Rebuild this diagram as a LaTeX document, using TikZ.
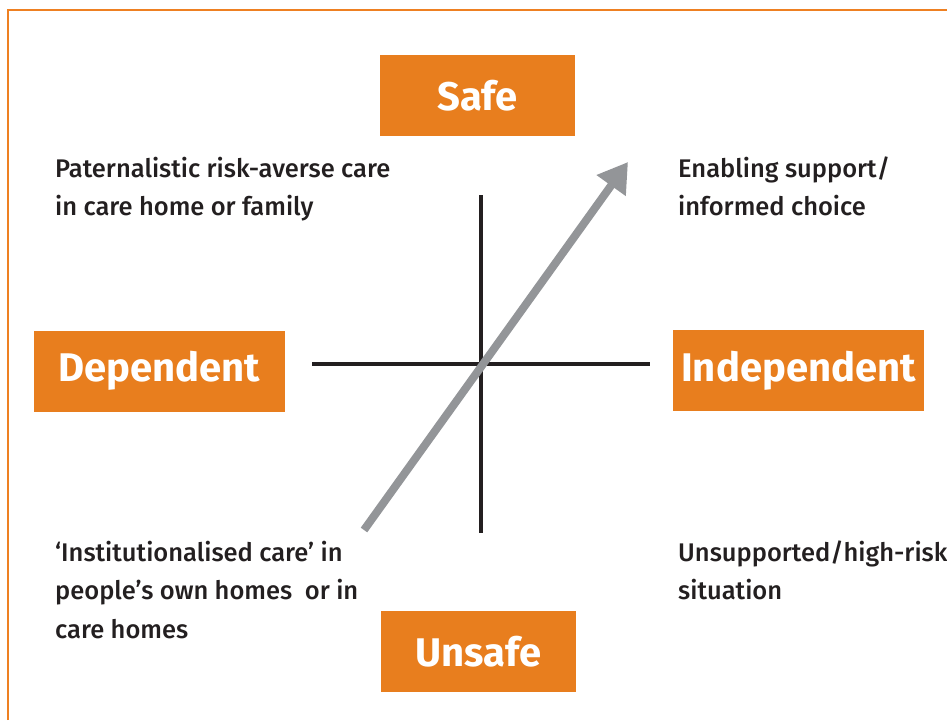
\documentclass[tikz,border=0pt]{standalone}
\usepackage{fontspec}
\setmainfont{Fira Sans}
\newfontfamily\quadfont{Fira Sans Medium}
\usetikzlibrary{arrows.meta}
\definecolor{frameorange}{RGB}{238,128,34}
\definecolor{boxorange}{RGB}{232,126,30}
\definecolor{axisblack}{RGB}{35,31,32}
\definecolor{arrowgrey}{RGB}{147,149,152}
\definecolor{textdark}{RGB}{35,31,32}
\begin{document}
\begin{tikzpicture}[x=1pt,y=-1pt,
  labelbox/.style={fill=boxorange, text=white, inner sep=0pt,
    font=\fontsize{40}{40}\selectfont\bfseries,
    minimum width=195pt, minimum height=81pt},
  quadtext/.style={anchor=base west, align=left, inner sep=0pt, text=textdark,
    font=\quadfont\fontsize{25.5}{38.5}\selectfont},
  axisline/.style={draw=axisblack, line width=3.5pt},
  trend/.style={draw=arrowgrey, line width=8pt,
    -{Triangle[length=29pt,width=34pt]}}]
\useasboundingbox (0,0) rectangle (947,720);

% open frame: top and left edges only
\coordinate (fbl) at (8,720);
\coordinate (ftl) at (8,10);
\coordinate (ftr) at (947,10);
\draw[frameorange, line width=2.5pt] (fbl) -- (ftl) -- (ftr);

% pole labels
\node[labelbox] (safe) at (477.5,95.5) {Safe};
\node[labelbox] (unsafe) at (478.5,651.5) {Unsafe};
\node[labelbox, minimum width=251pt] (dep) at (159.5,371) {Dependent};
\node[labelbox, minimum width=251pt] (indep) at (798.5,370.5) {Independent};

% axes
\coordinate (atop) at (481,195);
\coordinate (abot) at (481,533);
\coordinate (alft) at (312,364);
\coordinate (argt) at (650,364);
\draw[axisline] (atop) -- (abot);
\draw[axisline] (alft) -- (argt);

% direction of travel
\coordinate (tail) at (364,530);
\coordinate (tip) at (628,162);
\draw[trend] (tail) -- (tip);

% quadrant descriptions (anchored on the baseline of the last line)
\node[quadtext] (tl) at (55,215.5) {Paternalistic risk-averse care\\in care home or family};
\node[quadtext] (tr) at (678,215.5) {Enabling support/\\informed choice};
\node[quadtext] (bl) at (55,638) {‘Institutionalised care’ in\\people’s own homes~ or in\\care homes};
\node[quadtext] (br) at (678,599.5) {Unsupported/high-risk\\situation};
\end{tikzpicture}
\end{document}
